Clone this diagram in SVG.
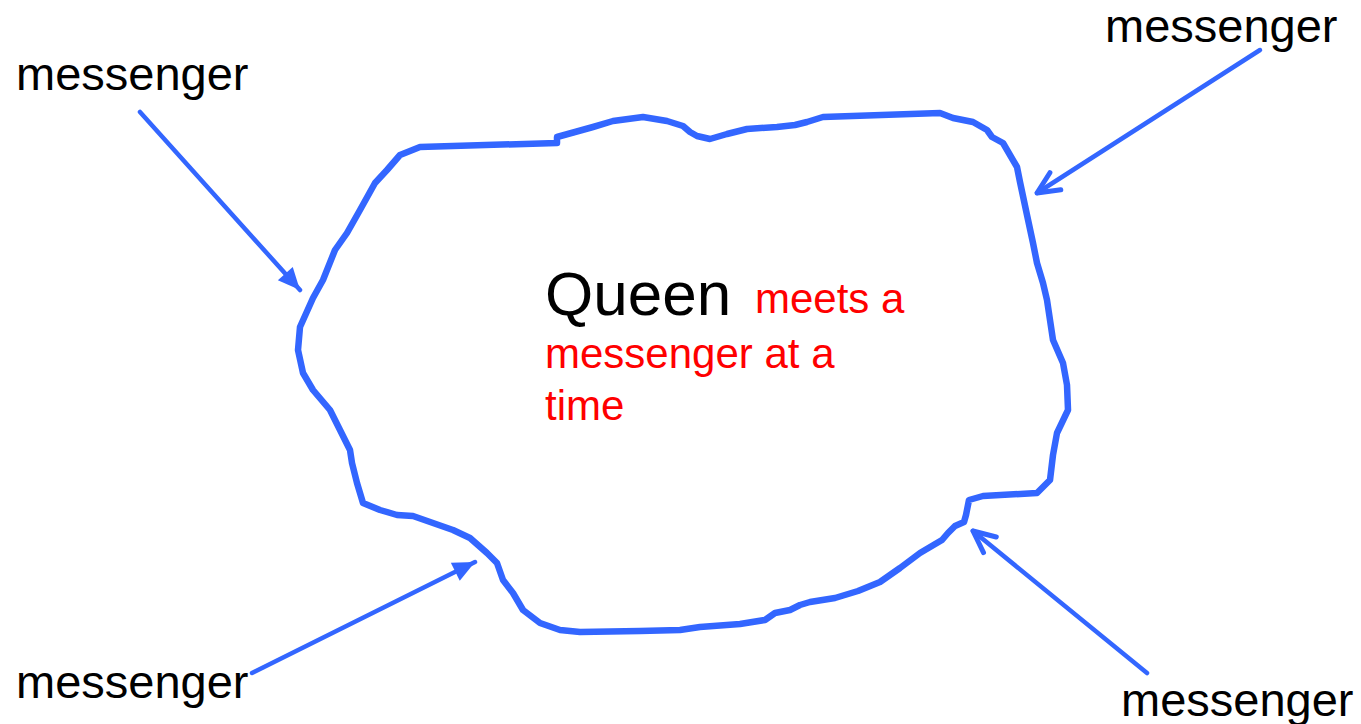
<svg xmlns="http://www.w3.org/2000/svg" width="1361" height="724" viewBox="0 0 1361 724">
  <style>
    .label { font-family: "Liberation Sans", Arial, sans-serif; font-size: 47px; fill: #000000; }
    .queen { font-family: "Liberation Sans", Arial, sans-serif; font-size: 62px; fill: #000000; }
    .note { font-family: "Liberation Sans", Arial, sans-serif; font-size: 42px; fill: #FF0000; }
    .blob { fill: none; stroke: #3366FF; stroke-width: 6.5; stroke-linejoin: round; stroke-linecap: round; }
    .conn { fill: none; stroke: #3366FF; stroke-width: 4.5; stroke-linecap: round; }
  </style>
  <defs>
    <marker id="filled" markerUnits="userSpaceOnUse" viewBox="-24 -12 26 24" refX="0" refY="0" markerWidth="26" markerHeight="24" orient="auto">
      <path d="M-22,-10 L0,0 L-22,10 Z" fill="#3366FF"/>
    </marker>
    <marker id="open" markerUnits="userSpaceOnUse" viewBox="-26 -14 30 28" refX="0" refY="0" markerWidth="30" markerHeight="28" orient="auto">
      <path d="M-21.8,-10.1 L0,0 L-21.8,10.1" fill="none" stroke="#3366FF" stroke-width="5" stroke-linecap="round" stroke-linejoin="round"/>
    </marker>
  </defs>

  <g id="queen">
    <path class="blob" d="M420,147 L557,143 L557,137 L575,132 L593,127 L613,121 L643,117 L667,121 L683,126 L690,132 L697,136 L710,139 L727,134 L747,129 L777,127 L795,125 L807,122 L823,117 L940,113 L953,118 L973,122 L987,130 L992,137 L1003,143 L1017,167 L1020,182 L1027,215 L1033,243 L1037,263 L1043,283 L1047,300 L1050,320 L1053,340 L1063,363 L1067,385 L1068,410 L1057,433 L1053,455 L1050,480 L1037,493 L983,496 L969,500 L966,515 L964,522 L955,526 L948,533 L942,540 L920,553 L900,568 L880,582 L858,591 L835,598 L810,602 L800,605 L790,610 L775,613 L765,620 L740,624 L700,627 L680,630 L640,631 L580,632 L560,630 L540,623 L523,610 L513,593 L503,580 L497,563 L487,553 L470,538 L453,530 L433,523 L413,516 L397,515 L380,510 L363,503 L357,483 L352,463 L350,450 L340,430 L330,410 L313,390 L303,373 L298,350 L300,327 L313,298 L323,280 L335,250 L347,233 L360,210 L375,183 L387,170 L400,155 Z"/>
    <text class="queen" x="545" y="315">Queen</text>
    <text class="note" x="755" y="313">meets a</text>
    <text class="note" x="545" y="368">messenger at a</text>
    <text class="note" x="545" y="420">time</text>
  </g>

  <g id="messenger-top-left">
    <text class="label" x="16" y="90">messenger</text>
  </g>
  <g id="messenger-top-right">
    <text class="label" x="1105" y="42">messenger</text>
  </g>
  <g id="messenger-bottom-left">
    <text class="label" x="16" y="698">messenger</text>
  </g>
  <g id="messenger-bottom-right">
    <text class="label" x="1121" y="716">messenger</text>
  </g>

  <g id="connectors">
    <line class="conn" x1="140" y1="112" x2="300" y2="290" marker-end="url(#filled)"/>
    <line class="conn" x1="1260" y1="50" x2="1037" y2="193" marker-end="url(#open)"/>
    <line class="conn" x1="252" y1="673" x2="475" y2="562" marker-end="url(#filled)"/>
    <line class="conn" x1="1147" y1="673" x2="973" y2="531" marker-end="url(#open)"/>
  </g>
</svg>
